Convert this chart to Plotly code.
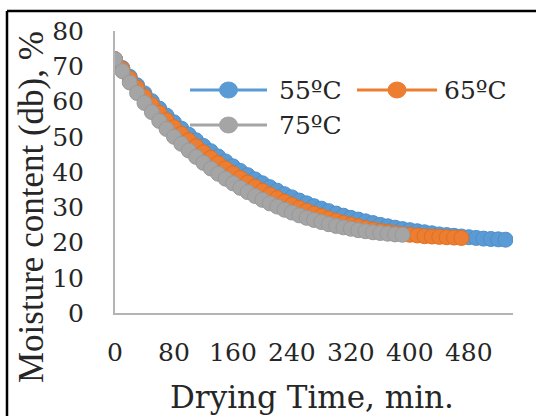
import plotly.graph_objects as go

# Drying time (min), sampled every 10 minutes
time_55 = list(range(0, 540, 10))
time_65 = list(range(0, 480, 10))
time_75 = list(range(0, 400, 10))

# Moisture content (dry basis, %)
mc_55 = [72.0, 69.5, 67.0, 64.6, 62.3, 60.1, 58.0, 56.0, 54.1, 52.3,
         50.6, 49.0, 47.4, 45.9, 44.4, 43.0, 41.6, 40.3, 39.1, 37.9,
         36.8, 35.7, 34.7, 33.7, 32.8, 31.9, 31.1, 30.3, 29.6, 28.9,
         28.2, 27.6, 27.0, 26.5, 26.0, 25.5, 25.0, 24.6, 24.2, 23.8,
         23.5, 23.2, 22.9, 22.6, 22.3, 22.1, 21.9, 21.7, 21.5, 21.3,
         21.1, 21.0, 20.9, 20.8]
mc_65 = [72.0, 69.2, 66.5, 63.9, 61.4, 59.0, 56.8, 54.7, 52.7, 50.8,
         49.0, 47.3, 45.6, 44.0, 42.5, 41.0, 39.6, 38.3, 37.0, 35.8,
         34.7, 33.6, 32.6, 31.6, 30.7, 29.8, 29.0, 28.2, 27.5, 26.8,
         26.2, 25.6, 25.1, 24.6, 24.1, 23.7, 23.3, 23.0, 22.7, 22.4,
         22.2, 22.0, 21.8, 21.7, 21.6, 21.5, 21.4, 21.3]
mc_75 = [72.0, 68.6, 65.4, 62.4, 59.6, 57.0, 54.5, 52.2, 50.0, 48.0,
         46.1, 44.3, 42.6, 41.0, 39.5, 38.1, 36.8, 35.5, 34.3, 33.2,
         32.1, 31.1, 30.2, 29.3, 28.5, 27.7, 27.0, 26.4, 25.8, 25.2,
         24.7, 24.3, 23.9, 23.5, 23.2, 22.9, 22.7, 22.5, 22.3, 22.2]

labels = ["55ºC", "65ºC", "75ºC"]
colors = ["#5B9BD5", "#ED7D31", "#A5A5A5"]
edges = ["#4F8FC9", "#E07020", "#999999"]
x_ticks = [0, 80, 160, 240, 320, 400, 480]
y_ticks = [0, 10, 20, 30, 40, 50, 60, 70, 80]

W, H = 536, 416
L, R, T, B = 115, 23, 31, 103
pw, ph = W - L - R, H - T - B

def px(x):
    return (x - L) / pw

def py(y):
    return (H - B - y) / ph

fig = go.Figure()
for t, mc, name, c, e in zip([time_55, time_65, time_75], [mc_55, mc_65, mc_75],
                             labels, colors, edges):
    fig.add_trace(go.Scatter(
        x=t, y=mc, name=name, mode="lines+markers",
        line=dict(color=c, width=2.5),
        marker=dict(color=c, size=15, line=dict(color=e, width=1)),
        showlegend=False,
    ))

tick_font = dict(family="DejaVu Serif", size=25, color="#262626")

fig.update_xaxes(
    range=[0, 540], tickvals=x_ticks, ticktext=[str(v) for v in x_ticks],
    showline=True, linecolor="#B4B4B4", linewidth=2, showgrid=False,
    zeroline=False, ticks="", tickfont=tick_font, ticklabelstandoff=16,
)
fig.update_yaxes(
    range=[0, 80], tickvals=y_ticks, showline=True, linecolor="#B4B4B4",
    linewidth=2, showgrid=False, zeroline=False, ticks="",
    tickfont=tick_font, ticklabelstandoff=24,
)

shapes = []
annotations = []

# Outer frame: top and left edges
frame = dict(color="black", width=2.5)
shapes.append(dict(type="line", xref="paper", yref="paper",
                   x0=px(7), x1=px(540), y0=py(11), y1=py(11), line=frame))
shapes.append(dict(type="line", xref="paper", yref="paper",
                   x0=px(7), x1=px(7), y0=py(11), y1=py(420), line=frame))

# Legend keys: line with a centred marker, then label
legend_items = [
    (190, 267, 90, 277, labels[0], colors[0]),
    (357, 437, 90, 442, labels[1], colors[1]),
    (190, 267, 125, 277, labels[2], colors[2]),
]
for x0, x1, yc, xt, name, c in legend_items:
    shapes.append(dict(type="line", xref="paper", yref="paper",
                       x0=px(x0), x1=px(x1), y0=py(yc), y1=py(yc),
                       line=dict(color=c, width=3)))
    xm = (x0 + x1) / 2
    shapes.append(dict(type="circle", xref="paper", yref="paper",
                       xsizemode="pixel", ysizemode="pixel",
                       xanchor=px(xm), yanchor=py(yc),
                       x0=-9, x1=9, y0=-8, y1=8,
                       fillcolor=c, line=dict(color=c, width=1)))
    annotations.append(dict(text=name, xref="paper", yref="paper",
                            x=px(xt), y=py(yc), xanchor="left", yanchor="middle",
                            showarrow=False,
                            font=dict(family="DejaVu Serif", size=25, color="#262626")))

# Axis titles
annotations.append(dict(text="Drying Time, min.", xref="paper", yref="paper",
                        x=px(312), y=py(397), xanchor="center", yanchor="middle",
                        showarrow=False,
                        font=dict(family="DejaVu Serif", size=31, color="#262626")))
annotations.append(dict(text="Moisture content (db), %", xref="paper", yref="paper",
                        x=px(31), y=py(207), xanchor="center", yanchor="middle",
                        textangle=-90, showarrow=False,
                        font=dict(family="Liberation Serif", size=35, color="#262626")))

fig.update_layout(
    width=W, height=H, margin=dict(l=L, r=R, t=T, b=B),
    paper_bgcolor="white", plot_bgcolor="white",
    shapes=shapes, annotations=annotations, showlegend=False,
)

fig.write_html("out.html")
